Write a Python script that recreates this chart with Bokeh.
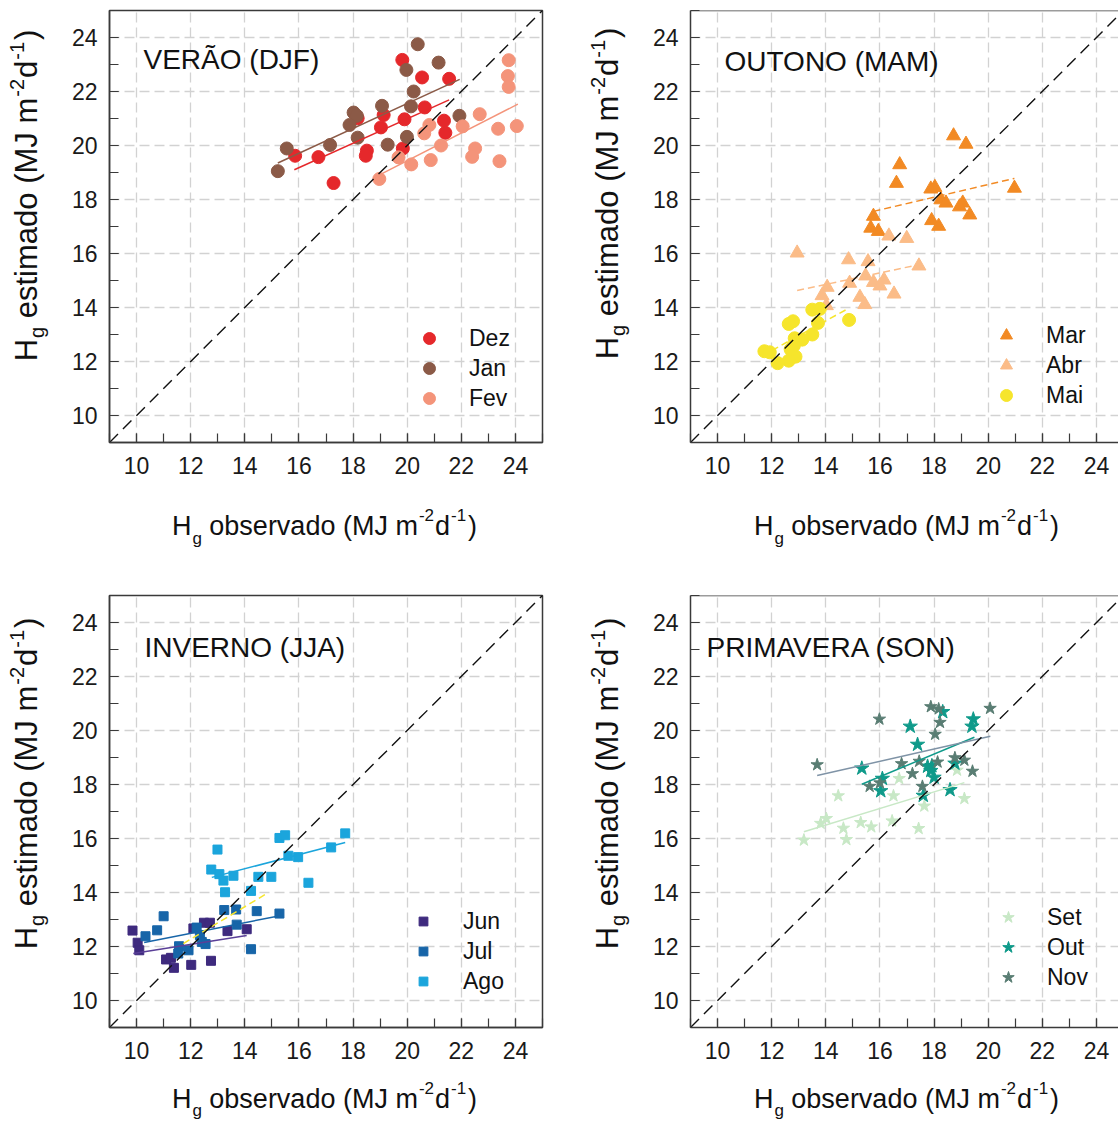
import math
from bokeh.plotting import figure
from bokeh.models import Range1d, Legend, LegendItem, Label, Span, SingleIntervalTicker
from bokeh.layouts import column, row
from bokeh.embed import file_html
from bokeh.resources import INLINE

FONT = "Liberation Sans"
FRAME = "#3a3a3a"
MID = 0.34  # distance (in em) from baseline to the middle of the text box

# ---------------- data ----------------
# Panel 1: VERÃO (DJF)
dez_x = [19.82, 20.55, 21.55, 20.65, 18.17, 19.13, 19.90, 19.03, 21.36, 21.41, 15.86, 16.72, 18.51, 18.47, 19.84, 17.28]
dez_y = [23.17, 22.52, 22.47, 21.41, 21.01, 21.13, 20.97, 20.67, 20.92, 20.47, 19.62, 19.57, 19.81, 19.62, 19.89, 18.61]
jan_x = [20.39, 21.16, 19.97, 20.24, 20.14, 18.02, 18.14, 19.07, 17.87, 18.17, 19.28, 19.99, 21.93, 17.15, 15.55, 15.22]
jan_y = [23.75, 23.07, 22.80, 22.00, 21.45, 21.22, 21.10, 21.47, 20.76, 20.29, 20.03, 20.32, 21.10, 20.02, 19.89, 19.05]
fev_x = [23.75, 23.72, 23.75, 22.68, 20.82, 20.63, 22.05, 23.36, 24.05, 21.25, 22.51, 22.40, 19.68, 20.15, 20.87, 23.41, 18.97]
fev_y = [23.16, 22.57, 22.17, 21.16, 20.76, 20.45, 20.71, 20.62, 20.72, 20.00, 19.89, 19.58, 19.56, 19.30, 19.46, 19.42, 18.76]
dez_fit_x = [15.83, 21.55]
dez_fit_y = [19.10, 21.69]
jan_fit_x = [15.22, 21.94]
jan_fit_y = [19.35, 22.45]
fev_fit_x = [18.78, 24.09]
fev_fit_y = [18.81, 21.53]

# Panel 2: OUTONO (MAM)
mar_x = [18.72, 19.18, 16.73, 16.61, 17.88, 18.03, 20.97, 18.25, 18.44, 19.06, 18.94, 19.32, 15.76, 17.91, 18.17, 15.66, 15.94]
mar_y = [20.36, 20.05, 19.29, 18.60, 18.39, 18.45, 18.42, 17.99, 17.87, 17.87, 17.73, 17.43, 17.38, 17.22, 17.01, 16.94, 16.82]
abr_x = [12.94, 16.33, 16.99, 14.84, 15.56, 17.44, 15.47, 16.15, 15.76, 16.00, 14.88, 14.05, 13.86, 16.52, 15.26, 15.44, 14.02]
abr_y = [16.02, 16.65, 16.56, 15.77, 15.70, 15.54, 15.17, 15.02, 14.93, 14.80, 14.90, 14.75, 14.44, 14.50, 14.38, 14.11, 14.07]
mai_x = [13.50, 13.78, 12.79, 12.63, 13.71, 14.86, 13.50, 12.85, 13.13, 12.82, 11.73, 11.93, 12.88, 12.63, 12.22, 12.70]
mai_y = [13.92, 13.95, 13.49, 13.39, 13.43, 13.54, 13.00, 12.86, 12.81, 12.59, 12.38, 12.34, 12.18, 12.03, 11.94, 12.45]
mar_fit_x = [15.76, 20.97]
mar_fit_y = [17.56, 18.78]
abr_fit_x = [12.94, 17.45]
abr_fit_y = [14.63, 15.59]
mai_fit_x = [12.01, 14.86]
mai_fit_y = [12.41, 13.98]

# Panel 3: INVERNO (JJA)
jun_x = [9.85, 10.04, 10.10, 11.09, 11.27, 11.38, 12.02, 12.75, 12.10, 12.49, 12.71, 13.36, 14.07]
jun_y = [12.59, 12.14, 11.86, 11.52, 11.58, 11.21, 11.32, 11.47, 12.67, 12.88, 12.88, 12.57, 12.64]
jul_x = [10.33, 10.76, 11.00, 11.57, 11.54, 11.92, 12.22, 12.34, 12.41, 12.55, 13.24, 13.68, 13.70, 14.44, 14.23, 15.28]
jul_y = [12.38, 12.60, 13.12, 12.01, 11.74, 11.86, 12.70, 12.42, 12.17, 12.09, 13.35, 13.37, 12.81, 13.31, 11.90, 13.22]
ago_x = [12.99, 15.28, 15.49, 17.71, 17.19, 15.61, 15.97, 12.76, 13.06, 13.21, 13.58, 14.50, 14.98, 16.35, 13.27, 14.23]
ago_y = [15.59, 16.02, 16.12, 16.19, 15.67, 15.36, 15.31, 14.85, 14.68, 14.44, 14.62, 14.58, 14.58, 14.36, 14.01, 14.06]
jun_fit_x = [9.88, 14.07]
jun_fit_y = [11.74, 12.41]
jul_fit_x = [10.28, 15.30]
jul_fit_y = [12.15, 13.14]
ago_fit_x = [12.78, 17.71]
ago_fit_y = [14.56, 15.85]
jja_extra_fit_x = [11.73, 14.81]
jja_extra_fit_y = [12.11, 13.96]

# Panel 4: PRIMAVERA (SON)
set_x = [13.19, 14.76, 14.65, 13.81, 14.02, 15.29, 15.68, 16.45, 17.43, 14.46, 16.50, 16.71, 17.64, 19.12, 18.85]
set_y = [15.94, 15.96, 16.38, 16.56, 16.74, 16.59, 16.43, 16.65, 16.37, 17.58, 17.58, 18.22, 17.20, 17.48, 18.53]
out_x = [19.45, 19.40, 17.12, 18.32, 17.39, 15.33, 16.09, 16.03, 17.76, 17.92, 17.88, 18.00, 18.77, 18.59, 17.60]
out_y = [20.42, 20.15, 20.15, 20.69, 19.48, 18.60, 18.22, 17.76, 18.67, 18.69, 18.51, 18.26, 18.78, 17.80, 17.59]
nov_x = [17.88, 18.17, 18.22, 18.04, 20.07, 15.98, 13.68, 16.80, 17.45, 18.13, 18.77, 19.12, 19.42, 17.20, 15.62, 16.00, 17.57]
nov_y = [20.88, 20.80, 20.30, 19.86, 20.82, 20.42, 18.73, 18.77, 18.86, 18.83, 18.99, 18.90, 18.49, 18.40, 17.93, 18.06, 17.93]
set_fit_x = [13.19, 19.12]
set_fit_y = [16.25, 18.07]
out_fit_x = [15.33, 19.49]
out_fit_y = [18.01, 19.75]
nov_fit_x = [13.68, 20.08]
nov_fit_y = [18.33, 19.79]

one_to_one = [9, 25]
titles = ["VERÃO (DJF)", "OUTONO (MAM)", "INVERNO (JJA)", "PRIMAVERA (SON)"]

# ---------------- helpers ----------------
AW = {' ': 278, '(': 333, ')': 333, '-': 333, '1': 556, '2': 556, 'H': 722, 'M': 833, 'J': 500,
      'a': 556, 'b': 556, 'd': 556, 'e': 556, 'g': 556, 'i': 222, 'm': 833, 'o': 556, 'r': 333,
      's': 500, 't': 278, 'v': 500}


def adv(s, size):
    return sum(AW.get(c, 556) for c in s) * size / 1000.0


def title_pieces(word, main):
    return [("H", "n", 0), ("g", "sub", 1), (word + " (MJ m", "n", adv(" ", main)),
            ("-2", "sup", 1), ("d", "n", 1), ("-1", "sup", 1), (")", "n", 2)]


def pieces_len(pieces, main, small):
    return sum(pre + adv(t, main if k == "n" else small) for t, k, pre in pieces)


def axis_title(p, base, center, word, main, small, vertical, sub_dy, sup_dy):
    """Lay out H_g <word> (MJ m^-2 d^-1) piece by piece; each piece anchored at its centre."""
    pieces = title_pieces(word, main)
    pos = center - pieces_len(pieces, main, small) / 2.0
    for t, k, pre in pieces:
        pos += pre
        size = main if k == "n" else small
        w = adv(t, size)
        off = 0 if k == "n" else (-sub_dy if k == "sub" else sup_dy)
        kw = dict(x_units="screen", y_units="screen", text=t, text_font=FONT,
                  text_font_size=f"{size}px", text_baseline="middle", text_align="center",
                  text_color="#111111")
        if vertical:
            lab = Label(x=base - off - MID * size, y=pos + w / 2.0, angle=math.pi / 2, **kw)
        else:
            lab = Label(x=pos + w / 2.0, y=base + off + MID * size, **kw)
        p.add_layout(lab)
        pos += w


def text_box(w, h, top=0, bottom=0):
    q = figure(width=w, height=h, x_range=Range1d(0, 1), y_range=Range1d(0, 1),
               x_axis_type=None, y_axis_type=None, output_backend="svg", toolbar_location=None,
               min_border_left=0, min_border_right=0, min_border_top=top, min_border_bottom=bottom,
               outline_line_color=None, background_fill_color="white", border_fill_color="white")
    return q


def make_panel(frame_w, xend, left, right, top, bottom, boxed):
    p = figure(frame_width=frame_w, frame_height=432, x_range=Range1d(9, xend), y_range=Range1d(9, 25),
               output_backend="svg", toolbar_location=None, min_border_left=left, min_border_right=right,
               min_border_top=top, min_border_bottom=bottom, background_fill_color="white",
               border_fill_color="white")
    for ax in (p.xaxis[0], p.yaxis[0]):
        ax.ticker = SingleIntervalTicker(interval=2, num_minor_ticks=2)
        ax.major_tick_in = 9
        ax.major_tick_out = 0
        ax.minor_tick_in = 9
        ax.minor_tick_out = 0
        ax.major_tick_line_color = FRAME
        ax.minor_tick_line_color = FRAME
        ax.major_tick_line_width = 1.2
        ax.minor_tick_line_width = 1.2
        ax.axis_line_color = FRAME
        ax.axis_line_width = 1.5
        ax.major_label_text_font = FONT
        ax.major_label_text_font_size = "23px"
        ax.major_label_text_color = "#1a1a1a"
    p.yaxis[0].major_label_standoff = 12
    p.xaxis[0].major_label_standoff = 14
    p.grid.grid_line_color = "#d2d2d2"
    p.grid.grid_line_dash = "10 5"
    p.grid.grid_line_width = 1.3
    if boxed:
        p.outline_line_color = FRAME
        p.outline_line_width = 1.5
        p.outline_line_alpha = 1.0
    else:
        p.outline_line_color = None
        p.add_layout(Span(location=25, dimension="width", line_color=FRAME, line_width=1.5))
    return p


def add_legend(p, items, x, y, gw, standoff):
    leg = Legend(items=[LegendItem(label=l, renderers=[r]) for l, r in items],
                 location=(x, y), padding=0, spacing=0, margin=0, glyph_width=gw, glyph_height=30,
                 label_standoff=standoff, label_text_font=FONT, label_text_font_size="23px",
                 label_text_color="#111111", label_height=30, background_fill_alpha=0,
                 border_line_alpha=0)
    p.add_layout(leg)


def add_title(p, text, x, baseline):
    size = 28
    p.add_layout(Label(x=x, y=baseline + MID * size, x_units="screen", y_units="screen", text=text,
                       text_font=FONT, text_font_size=f"{size}px", text_baseline="middle",
                       text_align="left", text_color="#111111"))


# ---------------- panels ----------------
X2END = 9 + 428 / 27.0625
p1 = make_panel(433, 25, 49, 10, 10, 40, True)
p2 = make_panel(428, X2END, 50, 0, 10, 40, False)
p3 = make_panel(433, 25, 49, 10, 2, 40, True)
p4 = make_panel(428, X2END, 50, 0, 2, 40, False)

# panel 1
r_dez = p1.scatter(dez_x, dez_y, marker="circle", size=13, color="#e5282b")
r_jan = p1.scatter(jan_x, jan_y, marker="circle", size=13, color="#8b5a47")
r_fev = p1.scatter(fev_x, fev_y, marker="circle", size=13, color="#f4947a")
p1.line(dez_fit_x, dez_fit_y, color="#e5282b", line_width=1.5)
p1.line(jan_fit_x, jan_fit_y, color="#8b5a47", line_width=1.5)
p1.line(fev_fit_x, fev_fit_y, color="#f4947a", line_width=1.5)
p1.line(one_to_one, one_to_one, color="#111111", line_width=1.4, line_dash="12 7")
add_legend(p1, [("Dez", r_dez), ("Jan", r_jan), ("Fev", r_fev)], 304, 29, 32, 24)
add_title(p1, titles[0], 34, 373)

# panel 2
r_mar = p2.scatter(mar_x, mar_y, marker="triangle", size=14, color="#f28a24")
r_abr = p2.scatter(abr_x, abr_y, marker="triangle", size=14, color="#fbbc88")
r_mai = p2.scatter(mai_x, mai_y, marker="circle", size=13, color="#f6e52c")
p2.line(mar_fit_x, mar_fit_y, color="#f28a24", line_width=1.5, line_dash="7 4")
p2.line(abr_fit_x, abr_fit_y, color="#fbbc88", line_width=1.5, line_dash="7 4")
p2.line(mai_fit_x, mai_fit_y, color="#f6e52c", line_width=1.5, line_dash="7 4")
p2.line(one_to_one, one_to_one, color="#111111", line_width=1.4, line_dash="12 7")
add_legend(p2, [("Mar", r_mar), ("Abr", r_abr), ("Mai", r_mai)], 300, 32, 32, 24)
add_title(p2, titles[1], 34, 371)

# panel 3
r_jun = p3.scatter(jun_x, jun_y, marker="square", size=9, color="#3e2a7e")
r_jul = p3.scatter(jul_x, jul_y, marker="square", size=9, color="#1765a8")
r_ago = p3.scatter(ago_x, ago_y, marker="square", size=9, color="#1ba5dc")
p3.line(jun_fit_x, jun_fit_y, color="#5a3f97", line_width=1.5)
p3.line(jul_fit_x, jul_fit_y, color="#1765a8", line_width=1.5)
p3.line(ago_fit_x, ago_fit_y, color="#1ba5dc", line_width=1.5)
p3.line(jja_extra_fit_x, jja_extra_fit_y, color="#f6e52c", line_width=1.5, line_dash="7 4")
p3.line(one_to_one, one_to_one, color="#111111", line_width=1.4, line_dash="12 7")
add_legend(p3, [("Jun", r_jun), ("Jul", r_jul), ("Ago", r_ago)], 303, 31, 22, 29)
add_title(p3, titles[2], 35, 370)

# panel 4
r_set = p4.scatter(set_x, set_y, marker="star", size=13, color="#c8e8c6")
r_out = p4.scatter(out_x, out_y, marker="star", size=15, color="#0f9a8a")
r_nov = p4.scatter(nov_x, nov_y, marker="star", size=13, color="#597d73")
p4.line(set_fit_x, set_fit_y, color="#c8e8c6", line_width=1.5)
p4.line(out_fit_x, out_fit_y, color="#0f9a8a", line_width=1.5)
p4.line(nov_fit_x, nov_fit_y, color="#7f93a6", line_width=1.5)
p4.line(one_to_one, one_to_one, color="#111111", line_width=1.4, line_dash="12 7")
add_legend(p4, [("Set", r_set), ("Out", r_out), ("Nov", r_nov)], 303, 35, 30, 24)
add_title(p4, titles[3], 16, 370)

# ---------------- axis titles in their own boxes ----------------
YL_MAIN, YL_SMALL = 31, 20
XL_MAIN, XL_SMALL = 27, 17

# y boxes share the panels' frame rows (frame: 432 px tall), so y is measured from the frame bottom
yl1 = text_box(60, 482, top=10, bottom=40)
yl2 = text_box(88, 482, top=10, bottom=40)
yl3 = text_box(60, 474, top=2, bottom=40)
yl4 = text_box(88, 474, top=2, bottom=40)
axis_title(yl1, 37, 247, "estimado", YL_MAIN, YL_SMALL, True, 6, 14)
axis_title(yl2, 66, 249, "estimado", YL_MAIN, YL_SMALL, True, 6, 14)
axis_title(yl3, 37, 244, "estimado", YL_MAIN, YL_SMALL, True, 6, 14)
axis_title(yl4, 66, 244, "estimado", YL_MAIN, YL_SMALL, True, 6, 14)

xl1 = text_box(552, 111)
xl2 = text_box(566, 111)
xl3 = text_box(552, 55)
xl4 = text_box(566, 55)
axis_title(xl1, 58, 324, "observado", XL_MAIN, XL_SMALL, False, 9, 15)
axis_title(xl2, 58, 354, "observado", XL_MAIN, XL_SMALL, False, 9, 15)
axis_title(xl3, 14, 324, "observado", XL_MAIN, XL_SMALL, False, 8, 15)
axis_title(xl4, 14, 354, "observado", XL_MAIN, XL_SMALL, False, 8, 15)

layout = column(
    row(yl1, p1, yl2, p2),
    row(xl1, xl2),
    row(yl3, p3, yl4, p4),
    row(xl3, xl4),
)
open("out.html", "w").write(file_html(layout, INLINE))
